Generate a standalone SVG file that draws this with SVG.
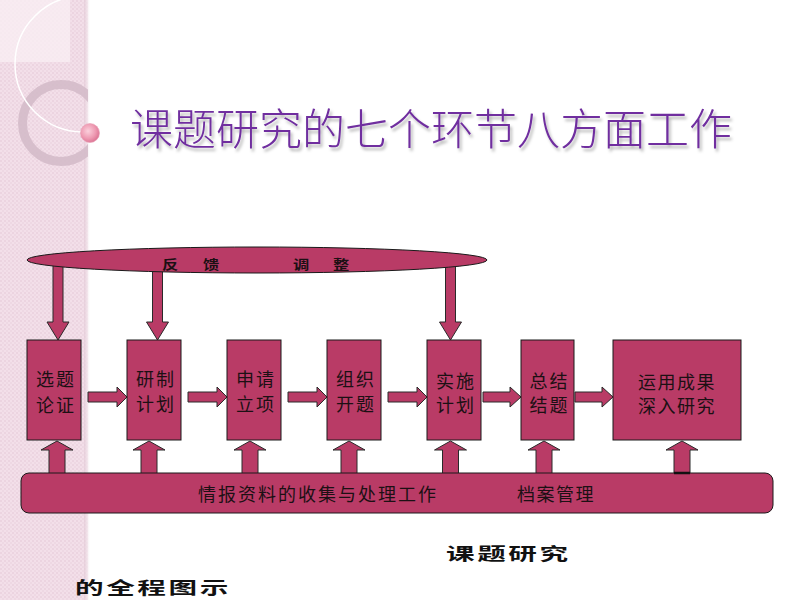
<svg xmlns="http://www.w3.org/2000/svg" width="800" height="600" viewBox="0 0 800 600">
<defs>
<pattern id="dots" width="4" height="4" patternUnits="userSpaceOnUse">
<rect width="4" height="4" fill="#F3DFE9"/>
<circle cx="1" cy="1" r="0.8" fill="#E4C7D6"/>
<circle cx="3" cy="3" r="0.8" fill="#E8CFDC"/>
</pattern>
<clipPath id="strip"><rect x="0" y="0" width="88" height="600"/></clipPath>
<linearGradient id="edge" x1="0" y1="0" x2="1" y2="0">
<stop offset="0" stop-color="#E3C9D6"/>
<stop offset="1" stop-color="#FFFFFF"/>
</linearGradient>
<radialGradient id="ball" cx="0.4" cy="0.4" r="0.65">
<stop offset="0" stop-color="#FBD0DC"/>
<stop offset="0.6" stop-color="#EE9AB2"/>
<stop offset="1" stop-color="#D97090"/>
</radialGradient>
<filter id="shadow" x="-5%" y="-20%" width="110%" height="150%">
<feDropShadow dx="2" dy="3" stdDeviation="1.5" flood-color="#000" flood-opacity="0.3"/>
</filter>
<style>
.shape{fill:#B93B66;stroke:#1a1a1a;stroke-width:1}
.arrow{fill:#B93B66;stroke:#2a2a2a;stroke-width:1}
.box-txt{font-family:"Noto Sans CJK SC","Noto Sans CJK JP",sans-serif;font-size:18px;fill:#1c1014}
.bar-txt{font-family:"Noto Sans CJK SC","Noto Sans CJK JP",sans-serif;font-size:18px;fill:#1c1014;letter-spacing:2px}
.fb-txt{font-family:"Noto Sans CJK SC","Noto Sans CJK JP",sans-serif;font-size:13px;font-weight:bold;fill:#1c1014;text-anchor:middle}
.cap{font-family:"Noto Sans CJK SC","Noto Sans CJK JP",sans-serif;font-size:22px;font-weight:bold;fill:#111;letter-spacing:2px}
.title{font-family:"Noto Sans CJK SC Light","Noto Sans CJK SC","Noto Sans CJK JP",sans-serif;font-size:43px;font-weight:300;fill:#6F2F9F}
</style>
</defs>

<!-- background -->
<rect x="0" y="0" width="800" height="600" fill="#FFFFFF"/>
<g id="side-strip">
<rect x="0" y="0" width="88" height="600" fill="url(#dots)"/>
<rect x="84" y="0" width="6" height="600" fill="url(#edge)" opacity="0.7"/>
<g clip-path="url(#strip)">
<rect x="0" y="0" width="70" height="62" fill="#F9EEF3" opacity="0.8"/>
<circle cx="61" cy="123" r="38.5" fill="none" stroke="#D4BBC9" stroke-width="9" opacity="0.9"/>
<circle cx="83" cy="64" r="68" fill="none" stroke="#FFFFFF" stroke-width="1.5"/>
</g>
<circle cx="90" cy="133" r="9.5" fill="url(#ball)" stroke="#E9A0B6" stroke-width="0.6"/>
</g>

<!-- title -->
<text class="title" x="130" y="145" filter="url(#shadow)">课题研究的七个环节八方面工作</text>

<!-- connectors -->
<g id="connectors">
<path class="arrow" d="M53,262 L63,262 L63,322 L69,322 L58,340 L47,322 L53,322 Z"/>
<path class="arrow" d="M152.5,262 L162.5,262 L162.5,322 L168.5,322 L157.5,340 L146.5,322 L152.5,322 Z"/>
<path class="arrow" d="M445.5,262 L455.5,262 L455.5,322 L461.5,322 L450.5,340 L439.5,322 L445.5,322 Z"/>
<path class="arrow" d="M88,392 L117,392 L117,387 L127,397 L117,407 L117,402 L88,402 Z"/>
<path class="arrow" d="M188,392 L217,392 L217,387 L227,397 L217,407 L217,402 L188,402 Z"/>
<path class="arrow" d="M288,392 L317,392 L317,387 L327,397 L317,407 L317,402 L288,402 Z"/>
<path class="arrow" d="M388,392 L417,392 L417,387 L427,397 L417,407 L417,402 L388,402 Z"/>
<path class="arrow" d="M483,392 L510,392 L510,387 L521,397 L510,407 L510,402 L483,402 Z"/>
<path class="arrow" d="M575,392 L602,392 L602,387 L613,397 L602,407 L602,402 L575,402 Z"/>
<path class="arrow" d="M49,478 L49,450 L41,450 L57,441 L73,450 L65,450 L65,478 Z"/>
<path class="arrow" d="M141,478 L141,450 L133,450 L149,441 L165,450 L157,450 L157,478 Z"/>
<path class="arrow" d="M242,478 L242,450 L234,450 L250,441 L266,450 L258,450 L258,478 Z"/>
<path class="arrow" d="M341,478 L341,450 L333,450 L349,441 L365,450 L357,450 L357,478 Z"/>
<path class="arrow" d="M442.5,478 L442.5,450 L434.5,450 L450.5,441 L466.5,450 L458.5,450 L458.5,478 Z"/>
<path class="arrow" d="M536,478 L536,450 L528,450 L544,441 L560,450 L552,450 L552,478 Z"/>
<path class="arrow" d="M674,478 L674,450 L666,450 L682,441 L698,450 L690,450 L690,478 Z"/>
</g>

<!-- feedback node -->
<g id="feedback">
<ellipse class="shape" cx="257" cy="260" rx="230" ry="13"/>
<text class="fb-txt" transform="translate(170,269) scale(1.25,1)">反</text>
<text class="fb-txt" transform="translate(211,269) scale(1.25,1)">馈</text>
<text class="fb-txt" transform="translate(301,269) scale(1.25,1)">调</text>
<text class="fb-txt" transform="translate(341,269) scale(1.25,1)">整</text>
</g>

<!-- step nodes -->
<g id="step1">
<rect class="shape" x="27" y="340" width="54" height="100"/>
<text class="box-txt" x="36" y="386">选<tspan dx="2">题</tspan></text>
<text class="box-txt" x="36" y="412">论<tspan dx="2">证</tspan></text>
</g>
<g id="step2">
<rect class="shape" x="127" y="340" width="54" height="100"/>
<text class="box-txt" x="136" y="386">研<tspan dx="2">制</tspan></text>
<text class="box-txt" x="136" y="411">计<tspan dx="2">划</tspan></text>
</g>
<g id="step3">
<rect class="shape" x="227" y="340" width="54" height="100"/>
<text class="box-txt" x="236" y="386">申<tspan dx="2">请</tspan></text>
<text class="box-txt" x="236" y="411">立<tspan dx="2">项</tspan></text>
</g>
<g id="step4">
<rect class="shape" x="327" y="340" width="54" height="100"/>
<text class="box-txt" x="336" y="386">组<tspan dx="2">织</tspan></text>
<text class="box-txt" x="336" y="411">开<tspan dx="2">题</tspan></text>
</g>
<g id="step5">
<rect class="shape" x="427" y="340" width="54" height="100"/>
<text class="box-txt" x="436" y="388">实<tspan dx="2">施</tspan></text>
<text class="box-txt" x="436" y="412">计<tspan dx="2">划</tspan></text>
</g>
<g id="step6">
<rect class="shape" x="521" y="340" width="53" height="100"/>
<text class="box-txt" x="529.5" y="388">总<tspan dx="2">结</tspan></text>
<text class="box-txt" x="529.5" y="412">结<tspan dx="2">题</tspan></text>
</g>
<g id="step7">
<rect class="shape" x="613" y="340" width="128" height="100"/>
<text class="box-txt" x="638" y="389">运<tspan dx="1.5">用</tspan><tspan dx="1.5">成</tspan><tspan dx="1.5">果</tspan></text>
<text class="box-txt" x="638" y="413">深<tspan dx="1.5">入</tspan><tspan dx="1.5">研</tspan><tspan dx="1.5">究</tspan></text>
</g>

<!-- bottom bar node -->
<g id="info-bar">
<rect class="shape" x="21" y="473" width="752" height="40" rx="8" ry="8"/>
<line x1="674" y1="473" x2="690" y2="473" stroke="#111" stroke-width="2.5"/>
<text class="bar-txt" x="198" y="501">情报资料的收集与处理工作</text>
<text class="bar-txt" x="517" y="501" style="letter-spacing:1.5px">档案管理</text>
</g>

<!-- caption -->
<text class="cap" transform="translate(446,560) scale(1.3,0.8)">课题研究</text>
<text class="cap" transform="translate(75,594) scale(1.3,0.8)">的全程图示</text>
</svg>
